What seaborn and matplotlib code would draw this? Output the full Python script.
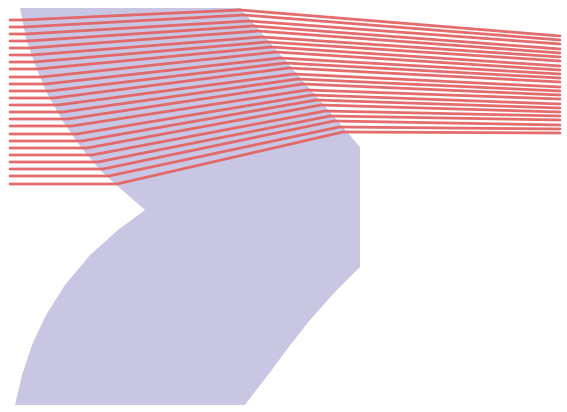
import numpy as np
import pandas as pd
import matplotlib
matplotlib.use("Agg")
import matplotlib.pyplot as plt
import seaborn as sns

# band outline (clockwise)
band_x = [20, 240, 360, 360, 335, 310, 288, 268, 254, 245, 15, 22, 32, 46, 65, 90, 118, 145,
          122, 100, 80, 62, 47, 35, 26, 20]
band_y = [8, 8, 147, 267, 292, 320, 348, 375, 393, 405, 405, 375, 345, 315, 285, 255, 230, 210,
          190, 170, 146, 120, 93, 65, 38, 8]

# flow lines
left_y = [20, 27, 34, 41, 48, 55, 62, 69, 77, 84, 91, 98, 105, 112, 119, 126, 134, 141, 148, 155, 162, 169, 176, 184]
bend1_x = [22, 24, 26, 28, 30, 32, 34, 38, 42, 46, 50, 54, 58, 63, 68, 72, 77, 82, 87, 92, 98, 103, 109, 117]
bend2_x = [240, 244, 249, 253, 258, 262, 267, 271, 276, 280, 285, 289, 294, 298, 303, 307, 312, 316, 321, 325, 330, 334, 339, 343]
bend2_y = [10, 15, 21, 26, 31, 37, 42, 47, 52, 58, 63, 68, 74, 79, 84, 90, 95, 100, 105, 111, 116, 121, 127, 132]
right_y = [36, 40, 44, 49, 53, 57, 61, 66, 70, 74, 78, 82, 87, 91, 95, 99, 104, 108, 112, 116, 120, 125, 129, 133]
x_start, x_end = 10, 560

rows = []
for i in range(len(left_y)):
    pts = [(x_start, left_y[i]), (bend1_x[i], left_y[i]), (bend2_x[i], bend2_y[i]), (x_end, right_y[i])]
    for k, (x, y) in enumerate(pts):
        rows.append(dict(line=i, order=k, x=x, y=y))
df = pd.DataFrame(rows)

sns.set_style("white")
fig = plt.figure(figsize=(5.67, 4.12), dpi=100)
ax = fig.add_axes([0, 0, 1, 1])
ax.fill(band_x, band_y, color="#c9c6e4", lw=0)
sns.lineplot(data=df, x="x", y="y", units="line", estimator=None, sort=False,
             color="#e36464", lw=2.0, alpha=0.95, ax=ax, legend=False)
ax.set_xlim(0, 567)
ax.set_ylim(412, 0)
ax.axis("off")
fig.savefig("out.png", dpi=100)
